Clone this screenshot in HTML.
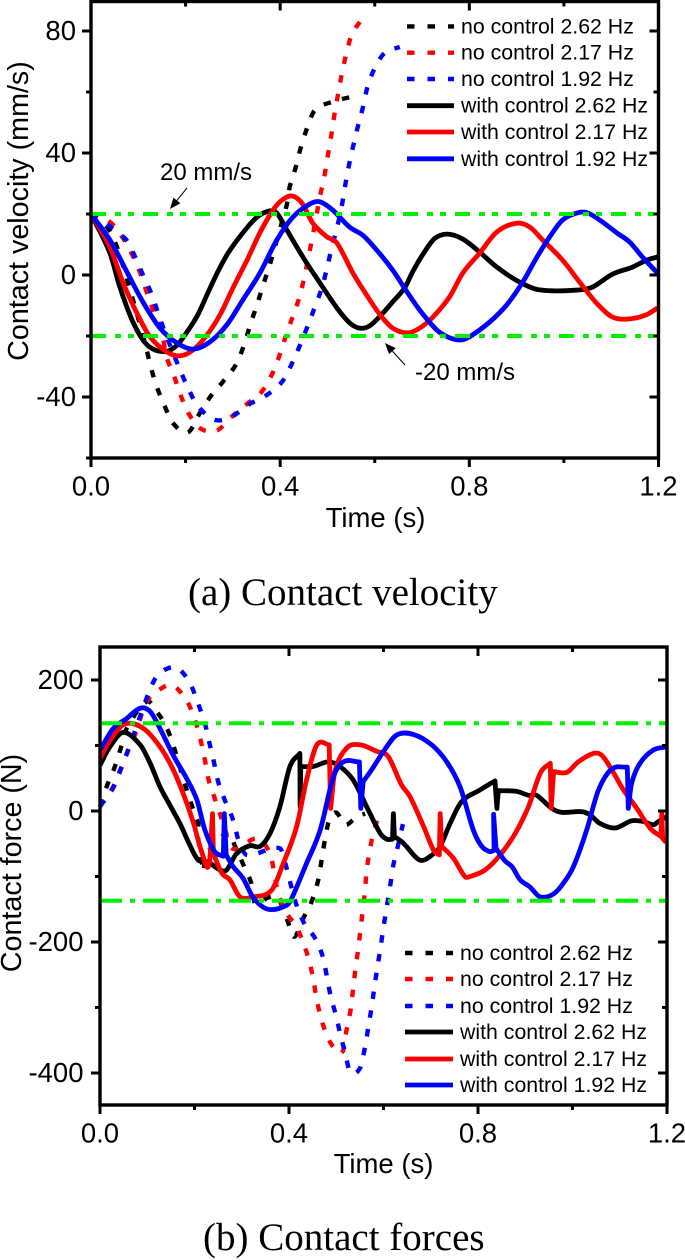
<!DOCTYPE html>
<html lang="en">
<head>
<meta charset="utf-8">
<title>Contact velocity and contact forces</title>
<style>
html,body{margin:0;padding:0;background:#fff;width:685px;height:1260px;overflow:hidden}
svg{display:block}
text{font-family:"Liberation Sans",sans-serif;fill:#000}
.cap{font-family:"Liberation Serif",serif;font-size:39px}
</style>
</head>
<body>
<svg id="fig" xmlns="http://www.w3.org/2000/svg" width="685" height="1260" viewBox="0 0 685 1260">
<text class="cap" x="188" y="605">(a) Contact velocity</text>
<text class="cap" x="203" y="1250">(b) Contact forces</text>
</svg>
<script>
const legendLabels = ['no control 2.62 Hz','no control 2.17 Hz','no control 1.92 Hz','with control 2.62 Hz','with control 2.17 Hz','with control 1.92 Hz'];
const xTickLabels = ['0.0','0.4','0.8','1.2'];
const xTickValues = [0,0.4,0.8,1.2];
const xMinorValues = [0.2,0.6,1.0];
const velTickValues = [80,40,0,-40];
const velMinorValues = [60,20,-20,-60];
const forceTickValues = [200,0,-200,-400];
const forceMinorValues = [100,-100,-300];
const velThresholds = [20,-20];
const forceThresholds = [134,-137];

/* Panel (a): contact velocity */
const velNc262T = [0,.036,.057,.093,.116,.127,.139,.155,.173,.205,.23,.255,.279,.308,.325,.338,.351,.364,.378,.4,.414,.42,.433,.444,.457,.473,.509,.551,.562];
const velNc262V = [20,15.3,8.2,-10.5,-23.5,-30.5,-36.6,-42.7,-48.5,-51.6,-45.3,-39.3,-35,-29,-22.3,-15.7,-9.8,-3.3,3.3,15.3,23,28.9,35.4,42,48.2,54,56.7,58.4,58.4];
const velNc217T = [0,.04,.068,.089,.107,.121,.135,.15,.16,.175,.188,.205,.23,.266,.298,.332,.361,.385,.4,.414,.429,.442,.452,.469,.484,.494,.501,.509,.515,.53,.539,.551,.572,.581];
const velNc217V = [20,17.4,12,6,-.6,-7.1,-13,-19,-26.9,-32.8,-38.8,-45,-50.2,-51,-46.4,-42,-38.3,-31.8,-25.7,-19,-12.6,-6.6,0,13,25.6,32.8,39.3,46.6,53,65.6,72,78.7,83.6,85];
const velNc192T = [0,.072,.093,.11,.129,.142,.156,.188,.205,.226,.262,.298,.332,.372,.404,.425,.442,.459,.475,.488,.499,.509,.52,.53,.537,.545,.554,.564,.575,.584,.6,.621,.653];
const velNc192V = [20,12,6,0,-6.6,-12.6,-18.7,-31,-37,-43,-47.5,-46.4,-42.6,-39.3,-35,-29,-23,-16.4,-9.8,-4.3,2.3,8.9,15.4,22.3,29,35.6,42,48.5,55,61.3,67.9,72.8,74.8];
const velWc262T = [0,.04,.061,.087,.11,.131,.16,.182,.203,.226,.247,.268,.29,.321,.351,.378,.393,.414,.448,.484,.52,.547,.568,.589,.617,.638,.663,.68,.701,.727,.754,.786,.822,.858,.906,.949,1.033,1.061,1.103,1.145,1.175,1.198];
const velWc262V = [20,7.2,-3.9,-14.8,-21.3,-24.3,-25,-23,-18.7,-13,-5.9,1,7.2,13.8,19,21,20.3,14.8,5.9,-2.6,-10.8,-15.7,-17.4,-16.7,-12.5,-8.8,-4.3,1,6.6,12,13.4,11.8,7.5,2.6,-2.3,-4.9,-4.9,-3.9,.3,2.6,4.9,5.9];
const velWc217T = [0,.04,.068,.097,.125,.16,.188,.216,.245,.273,.3,.33,.357,.385,.404,.425,.446,.469,.499,.52,.554,.583,.611,.638,.67,.695,.723,.758,.786,.822,.858,.9,.928,.955,.997,1.033,1.069,1.103,1.139,1.175,1.198];
const velWc217V = [20,9.2,-2.6,-12.5,-20.3,-25.2,-26.5,-24.6,-19.7,-13,-4.3,4.9,13.8,21.3,24.6,25.9,23.6,17,12.5,10.5,.6,-6.6,-13,-17.4,-19,-17.4,-13.8,-7.2,.6,7.2,14.1,17,15.7,11.5,4.9,-2.3,-9.2,-13.8,-14.4,-13,-10.8];
const velWc192T = [0,.04,.076,.11,.146,.182,.216,.251,.287,.321,.357,.393,.427,.463,.484,.511,.547,.575,.604,.638,.663,.695,.731,.754,.78,.8,.843,.879,.913,.942,.97,.997,1.027,1.048,1.076,1.112,1.139,1.166,1.198];
const velWc192V = [20,11.5,1,-8.9,-17.4,-22.3,-24.3,-22,-16.4,-8.2,.6,11.5,19,23.3,24,21.3,15.7,13,8.2,1.6,-4.3,-11.5,-18,-20.3,-21.3,-20.3,-15.4,-9.8,-2.3,5.6,12.5,18,20.3,20.5,18,13.8,10.8,5.9,.6];

/* Panel (b): contact force */
const frcNc262T = [0,.014,.03,.044,.055,.099,.123,.143,.157,.18,.194,.208,.208,.219,.224,.272,.286,.31,.32,.328,.356,.377,.396,.411,.43,.448,.462,.469,.476,.485,.5,.519,.543,.561];
const frcNc262V = [7,37,65,96,124,167,149,124,96,40,9,-19,-44,-93,-65,-33,-54,-93,-110,-141,-132,-133,-166,-192,-164,-138,-105,-75,-44,-14,-2.5,-21,-9,-4];
const frcNc217T = [0,.028,.044,.06,.078,.095,.116,.152,.183,.201,.212,.222,.229,.243,.257,.279,.332,.36,.37,.377,.395,.416,.432,.444,.453,.46,.471,.487,.508,.515,.521,.53,.535,.54,.546,.551,.556,.561,.564,.571,.58,.593,.6];
const frcNc217V = [7,35,63,93,124,162,180,192,169,139,111,78,50,19,-11,-57,-42,-65,-100,-126,-156,-177,-205,-232,-264,-293,-324,-353,-370,-366,-337,-306,-276,-244,-213,-184,-152,-121,-90,-60,-29,-5,-4];
const frcNc192T = [0,.028,.044,.062,.104,.123,.161,.19,.206,.222,.231,.241,.25,.264,.282,.293,.31,.381,.394,.404,.416,.434,.455,.471,.48,.488,.499,.508,.519,.529,.55,.561,.568,.575,.581,.587,.594,.6,.607,.614,.621,.632,.641];
const frcNc192V = [7,37,65,98,182,208,219,196,167,134,106,75,45,17,-14,-44,-67,-57,-85,-113,-144,-174,-194,-221,-252,-282,-311,-339,-370,-398,-393,-360,-329,-299,-268,-238,-207,-177,-146,-115,-82,-49,-20];
const frcWc262T = [0,.021,.049,.085,.106,.127,.148,.169,.19,.208,.229,.254,.268,.289,.317,.339,.36,.381,.402,.423,.4235,.425,.451,.483,.508,.536,.564,.593,.607,.619,.621,.623,.642,.677,.705,.72,.741,.765,.804,.836,.84,.843,.882,.907,.924,.956,.977,1.02,1.037,1.058,1.09,1.125,1.15,1.171,1.182,1.198];
const frcWc262V = [70,98,120,101,73,37,9,-19,-52,-75,-78,-90,-90,-65,-53,-54,-34,7,68,88,7,68,68,75,68,47,7,-34,-43,-43,-4,-39,-49,-75,-66,-54,-19,14,32,46,4,31,30,24,24,4,-2,-1,-6,-19,-26,-15,-16,-21,-16,-9];
const frcWc217T = [0,.021,.053,.092,.127,.155,.18,.198,.215,.231,.238,.24,.258,.275,.296,.325,.363,.388,.416,.437,.459,.485,.488,.497,.522,.55,.586,.61,.638,.656,.685,.706,.718,.72,.723,.748,.772,.783,.815,.847,.879,.907,.932,.953,.955,.96,.988,1.012,1.044,1.062,1.083,1.108,1.136,1.164,1.187,1.189,1.191,1.198];
const frcWc217V = [80,108,133,126,98,63,19,-19,-62,-82,-4,-65,-95,-105,-131,-131,-121,-80,-24,47,101,101,4,60,96,101,91,83,40,22,-24,-60,-67,-4,-54,-72,-100,-100,-90,-67,-34,7,58,73,4,60,59,75,88,85,63,32,4,-26,-39,-4,-42,-48];
const frcWc192T = [0,.028,.056,.085,.106,.127,.155,.183,.205,.222,.243,.261,.263,.267,.282,.303,.325,.356,.395,.406,.437,.466,.494,.515,.549,.552,.557,.575,.6,.628,.663,.702,.734,.762,.79,.808,.825,.834,.833,.838,.857,.872,.889,.91,.931,.959,.981,1.002,1.03,1.055,1.083,1.116,1.118,1.125,1.143,1.171,1.2];
const frcWc192V = [93,126,141,157,152,126,85,50,17,-29,-62,-69,-4,-67,-85,-103,-133,-150,-144,-133,-80,-29,52,75,75,4,45,63,91,116,117,101,75,37,-29,-54,-62,-60,-5,-57,-76,-85,-105,-116,-131,-127,-110,-85,-29,32,64,67,4,42,73,93,98];

const svgNS = 'http://www.w3.org/2000/svg';
const fig = document.getElementById('fig');
const BLACK = '#000000', RED = '#ff0000', BLUE = '#0000ff', GREEN = '#00f000';
const SHORT = 3;

function add(tag, attrs, parent){
  const el = document.createElementNS(svgNS, tag);
  for (const k in attrs) el.setAttribute(k, attrs[k]);
  (parent || fig).appendChild(el);
  return el;
}
/* Smooth curve through the data; near-vertical spikes stay straight. */
function curvePath(px, py){
  const n = px.length, m = [];
  const slope = (a,b)=> (py[b]-py[a])/(px[b]-px[a]);
  for (let i=0;i<n;i++){
    const dl = i>0 ? px[i]-px[i-1] : null, dr = i<n-1 ? px[i+1]-px[i] : null;
    if (dl===null) m[i] = Math.abs(dr)<SHORT ? 0 : slope(i,i+1);
    else if (dr===null) m[i] = Math.abs(dl)<SHORT ? 0 : slope(i-1,i);
    else if (Math.abs(dr)<SHORT && Math.abs(dl)<SHORT) m[i] = 0;
    else if (Math.abs(dr)<SHORT) m[i] = slope(i-1,i);
    else if (Math.abs(dl)<SHORT) m[i] = slope(i,i+1);
    else m[i] = slope(i-1,i+1);
  }
  let d = 'M'+px[0].toFixed(1)+' '+py[0].toFixed(1);
  for (let i=0;i<n-1;i++){
    const dx = px[i+1]-px[i];
    if (Math.abs(dx)<SHORT){ d += 'L'+px[i+1].toFixed(1)+' '+py[i+1].toFixed(1); continue; }
    d += 'C'+(px[i]+dx/3).toFixed(1)+' '+(py[i]+m[i]*dx/3).toFixed(1)+' '+(px[i+1]-dx/3).toFixed(1)+' '+(py[i+1]-m[i+1]*dx/3).toFixed(1)+' '+px[i+1].toFixed(1)+' '+py[i+1].toFixed(1);
  }
  return d;
}
function plotLine(panel, xs, ys, color, dashed, name){
  const d = curvePath(xs.map(panel.x), ys.map(panel.y));
  const el = add('path',{d:d,fill:'none',stroke:color,'stroke-width':dashed?4.4:4.8,'stroke-linejoin':'round','stroke-linecap':'butt'});
  if (dashed) el.setAttribute('stroke-dasharray','7.5 11.5');
  
  
}
function seg(x1,y1,x2,y2,w,name){
  const el = add('line',{x1:x1,y1:y1,x2:x2,y2:y2,stroke:'#000','stroke-width':w});
  
  
}
function label(x,y,str,size,anchor,name,rot){
  const el = add('text',{x:x,y:y,'font-size':size,'text-anchor':anchor});
  if (rot) el.setAttribute('transform','rotate(-90 '+x+' '+y+')');
  el.textContent = str;
  
  
}
function makePanel(o){
  return {
    x: t => o.left + (t - 0) / 1.2 * (o.right - o.left),
    y: v => o.zeroY - v * o.pxPerUnit,
    left:o.left,right:o.right,top:o.top,bottom:o.bottom
  };
}
function drawFrame(p, yTicks, yMinor, tickRight, prefix){
  yTicks.forEach(v=>{
    seg(p.left-9,p.y(v),p.left,p.y(v),3,prefix+'-y-tick');
    seg(p.right-9,p.y(v),p.right,p.y(v),3,prefix+'-y-tick-right');
    label(tickRight,p.y(v)+9,String(v),27.5,'end',prefix+'-y-tick-label');
  });
  yMinor.forEach(v=>{
    seg(p.left-5,p.y(v),p.left,p.y(v),3,prefix+'-y-minor-tick');
    seg(p.right-5,p.y(v),p.right,p.y(v),3,prefix+'-y-minor-tick-right');
  });
  xTickValues.forEach((t,i)=>{
    seg(p.x(t),p.bottom,p.x(t),p.bottom+9,3,prefix+'-x-tick');
    seg(p.x(t),p.top,p.x(t),p.top+9,3,prefix+'-x-tick-top');
    label(p.x(t),p.bottom+37.3,xTickLabels[i],27.5,'middle',prefix+'-x-tick-label');
  });
  xMinorValues.forEach(t=>{
    seg(p.x(t),p.bottom,p.x(t),p.bottom+5,3,prefix+'-x-minor-tick');
    seg(p.x(t),p.top,p.x(t),p.top+5,3,prefix+'-x-minor-tick-top');
  });
  const box = add('rect',{x:p.left,y:p.top,width:p.right-p.left,height:p.bottom-p.top,fill:'none',stroke:'#000','stroke-width':3.4});
  
  
}
function drawThresholds(p, values, pattern, prefix){
  values.forEach(v=>{
    const el = add('line',{x1:p.left,y1:p.y(v),x2:p.right,y2:p.y(v),stroke:GREEN,'stroke-width':4,'stroke-dasharray':pattern});
    
    
  });
}
function drawLegend(x1,x2,textX,ys,prefix){
  const colors = [BLACK,RED,BLUE,BLACK,RED,BLUE];
  legendLabels.forEach((lab,i)=>{
    const ln = add('line',{x1:x1,y1:ys[i],x2:x2,y2:ys[i],stroke:colors[i],'stroke-width':i<3?4.4:4.8});
    if (i<3) ln.setAttribute('stroke-dasharray','7.5 13');
    
    
    label(textX,ys[i]+7,lab,21.3,'start',prefix+'-legend-entry');
  });
}
function arrow(x1,y1,x2,y2,name){
  const a = Math.atan2(y2-y1,x2-x1), L = 11, W = 4.5;
  const bx = x2-L*Math.cos(a), by = y2-L*Math.sin(a);
  seg(x1,y1,bx,by,1,name+'-shaft');
  const h = add('polygon',{points:[x2+','+y2,(bx-W*Math.sin(a))+','+(by+W*Math.cos(a)),(bx+W*Math.sin(a))+','+(by-W*Math.cos(a))].join(' '),fill:'#000'});
  
  
}

/* Panel (a) */
const pA = makePanel({left:91,right:658.5,top:1.5,bottom:458,zeroY:275,pxPerUnit:3.05});
plotLine(pA,velNc262T,velNc262V,BLACK,true,'velocity-no-control-2-62');
plotLine(pA,velNc217T,velNc217V,RED,true,'velocity-no-control-2-17');
plotLine(pA,velNc192T,velNc192V,BLUE,true,'velocity-no-control-1-92');
plotLine(pA,velWc262T,velWc262V,BLACK,false,'velocity-with-control-2-62');
plotLine(pA,velWc217T,velWc217V,RED,false,'velocity-with-control-2-17');
plotLine(pA,velWc192T,velWc192V,BLUE,false,'velocity-with-control-1-92');
drawThresholds(pA,velThresholds,'15 9 6 7 6 9','velocity');
drawFrame(pA,velTickValues,velMinorValues,76,'velocity');
label(375.5,527,'Time (s)',27.5,'middle','velocity-x-axis-title');
label(28,211,'Contact velocity (mm/s)',28.7,'middle','velocity-y-axis-title',true);
drawLegend(407,454,461,[26.4,52.7,79,105.7,132,158.8],'velocity');
label(160,180,'20 mm/s',24,'start','annotation-20-mm-s');
label(415,380,'-20 mm/s',24,'start','annotation-minus-20-mm-s');
arrow(187,188,170,209,'annotation-20-arrow');
arrow(405,365,385,343,'annotation-minus-20-arrow');

/* Panel (b) */
const pB = makePanel({left:100,right:667,top:647,bottom:1105,zeroY:811,pxPerUnit:0.655});
plotLine(pB,frcNc262T,frcNc262V,BLACK,true,'force-no-control-2-62');
plotLine(pB,frcNc217T,frcNc217V,RED,true,'force-no-control-2-17');
plotLine(pB,frcNc192T,frcNc192V,BLUE,true,'force-no-control-1-92');
plotLine(pB,frcWc262T,frcWc262V,BLACK,false,'force-with-control-2-62');
plotLine(pB,frcWc217T,frcWc217V,RED,false,'force-with-control-2-17');
plotLine(pB,frcWc192T,frcWc192V,BLUE,false,'force-with-control-1-92');
drawThresholds(pB,forceThresholds,'22 8 5 8','force');
drawFrame(pB,forceTickValues,forceMinorValues,83.5,'force');
label(383.5,1173,'Time (s)',27.5,'middle','force-x-axis-title');
label(21,863,'Contact force (N)',28.7,'middle','force-y-axis-title',true);
drawLegend(405,453,460,[953,979,1006,1032,1059,1085],'force');
</script>
</body>
</html>
